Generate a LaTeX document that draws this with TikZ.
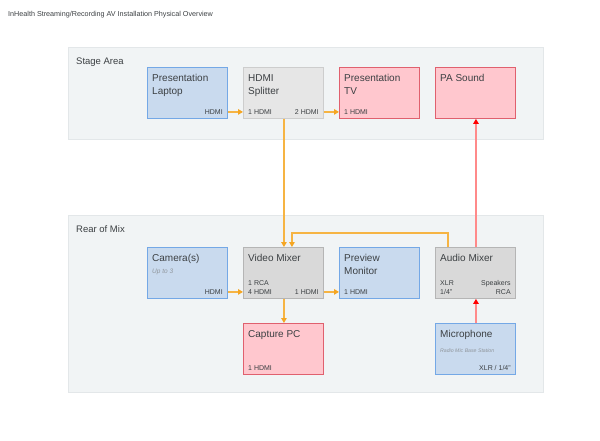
\documentclass[tikz,border=0pt]{standalone}
\usepackage{fontspec}
\setmainfont{Liberation Sans}
\usetikzlibrary{arrows.meta,positioning}
\definecolor{panelfill}{HTML}{F1F4F5}
\definecolor{paneldraw}{HTML}{E3E7E9}
\definecolor{bluefill}{HTML}{C9DAEE}
\definecolor{bluedraw}{HTML}{74A8E6}
\definecolor{redfill}{HTML}{FFC7CE}
\definecolor{reddraw}{HTML}{E0606E}
\definecolor{grayfill}{HTML}{D9D9D9}
\definecolor{graydraw}{HTML}{B5B5B5}
\definecolor{lgrayfill}{HTML}{E6E6E6}
\definecolor{lgraydraw}{HTML}{CDCDCD}
\definecolor{txt}{HTML}{3C4043}
\definecolor{subtxt}{HTML}{8F959B}
\definecolor{orangeline}{HTML}{F6B443}
\definecolor{orangehead}{HTML}{F5A623}
\definecolor{redline}{HTML}{FF8A8A}
\definecolor{redhead}{HTML}{FF0000}

\begin{document}
\begin{tikzpicture}[x=1pt,y=1pt,
  panel/.style={draw=paneldraw,fill=panelfill,line width=0.8pt,minimum width=475pt,anchor=north west,inner sep=0pt},
  panellabel/.style={anchor=base west,inner sep=0pt,text=txt,font=\fontsize{9.5}{11}\selectfont},
  devbox/.style={line width=0.9pt,minimum width=80pt,minimum height=51pt,anchor=north west,inner sep=0pt},
  bluebox/.style={devbox,draw=bluedraw,fill=bluefill},
  redbox/.style={devbox,draw=reddraw,fill=redfill},
  graybox/.style={devbox,draw=graydraw,fill=grayfill},
  lgraybox/.style={devbox,draw=lgraydraw,fill=lgrayfill},
  devtitle/.style={anchor=north west,inner sep=0pt,align=left,text=txt,font=\fontsize{10}{13}\selectfont},
  portl/.style={anchor=base west,inner sep=0pt,text=txt,font=\fontsize{7}{8}\selectfont},
  portr/.style={anchor=base east,inner sep=0pt,text=txt,font=\fontsize{7}{8}\selectfont},
  devsub/.style={anchor=base west,inner sep=0pt,text=subtxt,font=\itshape},
  vlink/.style={draw=orangeline,line width=2pt,-{Triangle[length=5pt,width=5.5pt,color=orangehead]}},
  alink/.style={draw=redline,line width=2pt,-{Triangle[length=5pt,width=5.5pt,color=redhead]}}
]
\useasboundingbox (0,0) rectangle (600,-440);

\node[anchor=base west,inner sep=0pt,text=txt,font=\fontsize{7.2}{8}\selectfont] (title) at (8,-16) {InHealth Streaming/Recording AV Installation Physical Overview};

% areas
\node[panel,minimum height=92pt] (stage) at (68,-47) {};
\node[panellabel] (stage-l) at (76,-64) {Stage Area};
\node[panel,minimum height=177pt] (rear) at (68,-215) {};
\node[panellabel] (rear-l) at (76,-232) {Rear of Mix};

% stage devices
\node[bluebox] (lap) at (147,-67) {};
\node[lgraybox] (split) at (243,-67) {};
\node[redbox] (tv) at (339,-67) {};
\node[redbox] (pa) at (435,-67) {};

% rear devices
\node[bluebox] (cam) at (147,-247) {};
\node[graybox] (vmix) at (243,-247) {};
\node[bluebox] (prev) at (339,-247) {};
\node[graybox] (amix) at (435,-247) {};
\node[redbox] (cap) at (243,-323) {};
\node[bluebox] (mic) at (435,-323) {};

% titles
\foreach \n / \t in {lap/{Presentation\\Laptop},split/{HDMI\\Splitter},tv/{Presentation\\TV},pa/{PA Sound},
                     cam/{Camera(s)},vmix/{Video Mixer},prev/{Preview\\Monitor},amix/{Audio Mixer},
                     cap/{Capture PC},mic/{Microphone}}
  \node[devtitle] (\n-t) at ([xshift=5pt,yshift=-7.5pt]\n.north west) {\t};

\node[devsub,font=\itshape\fontsize{6.5}{7}\selectfont] (cam-s) at ([xshift=5pt,yshift=-26pt]cam.north west) {Up to 3};
\node[devsub,font=\itshape\fontsize{5.2}{6}\selectfont] (mic-s) at ([xshift=5pt,yshift=-29pt]mic.north west) {Radio Mic Base Station};

% ports
\node[portr] (lap-o) at ([xshift=-5pt,yshift=4.5pt]lap.south east) {HDMI};
\node[portl] (split-i) at ([xshift=5pt,yshift=4.5pt]split.south west) {1 HDMI};
\node[portr] (split-o) at ([xshift=-5pt,yshift=4.5pt]split.south east) {2 HDMI};
\node[portl] (tv-i) at ([xshift=5pt,yshift=4.5pt]tv.south west) {1 HDMI};
\node[portr] (cam-o) at ([xshift=-5pt,yshift=4.5pt]cam.south east) {HDMI};
\node[portl] (vmix-a) at ([xshift=5pt,yshift=13pt]vmix.south west) {1 RCA};
\node[portl] (vmix-i) at ([xshift=5pt,yshift=4.5pt]vmix.south west) {4 HDMI};
\node[portr] (vmix-o) at ([xshift=-5pt,yshift=4.5pt]vmix.south east) {1 HDMI};
\node[portl] (prev-i) at ([xshift=5pt,yshift=4.5pt]prev.south west) {1 HDMI};
\node[portl] (amix-x) at ([xshift=5pt,yshift=13pt]amix.south west) {XLR};
\node[portl] (amix-q) at ([xshift=5pt,yshift=4.5pt]amix.south west) {1/4"};
\node[portr] (amix-s) at ([xshift=-5pt,yshift=13pt]amix.south east) {Speakers};
\node[portr] (amix-r) at ([xshift=-5pt,yshift=4.5pt]amix.south east) {RCA};
\node[portl] (cap-i) at ([xshift=5pt,yshift=4.5pt]cap.south west) {1 HDMI};
\node[portr] (mic-o) at ([xshift=-5pt,yshift=4.5pt]mic.south east) {XLR / 1/4"};

% video links
\draw[vlink] ([yshift=7pt]lap.south east) -- ([yshift=7pt]split.south west);
\draw[vlink] ([yshift=7pt]split.south east) -- ([yshift=7pt]tv.south west);
\draw[vlink] ([xshift=0.5pt]split.south) -- ([xshift=0.5pt]vmix.north);
\draw[vlink] ([xshift=-27.5pt]amix.north) -- ++(0,14) -| ([xshift=8.5pt]vmix.north);
\draw[vlink] ([yshift=7pt]cam.south east) -- ([yshift=7pt]vmix.south west);
\draw[vlink] ([yshift=7pt]vmix.south east) -- ([yshift=7pt]prev.south west);
\draw[vlink] ([xshift=0.5pt]vmix.south) -- ([xshift=0.5pt]cap.north);

% audio links
\draw[alink] ([xshift=0.5pt]amix.north) -- ([xshift=0.5pt]pa.south);
\draw[alink] ([xshift=0.5pt]mic.north) -- ([xshift=0.5pt]amix.south);

\end{tikzpicture}
\end{document}
